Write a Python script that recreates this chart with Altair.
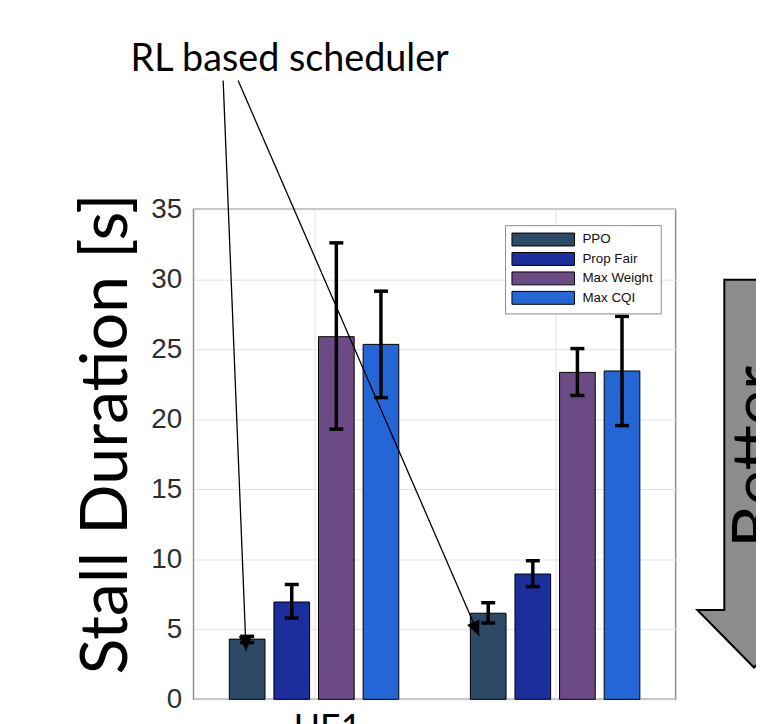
import math
import altair as alt
import pandas as pd

# ---------------- data ----------------
schedulers = ["PPO", "Prop Fair", "Max Weight", "Max CQI"]
bar_colors = ["#2c4a66", "#1b2e9c", "#6b4a86", "#2566d6"]
ue_positions = [1, 2]
ue_labels = ["UE1"]

mean_ue1 = [4.3, 6.95, 25.9, 25.35]
low_ue1 = [4.05, 5.8, 19.3, 21.55]
high_ue1 = [4.5, 8.2, 32.6, 29.15]

mean_ue2 = [6.15, 8.95, 23.35, 23.45]
low_ue2 = [5.45, 8.05, 21.7, 19.55]
high_ue2 = [6.9, 9.9, 25.05, 27.35]

y_ticks = [0, 5, 10, 15, 20, 25, 30, 35]

# annotation anchors in data units (x: UE axis, y: seconds)
note_text = ["RL based scheduler"]
note_xy = [0.899, 44.9]
arrow_x_start = [0.623, 0.685]
arrow_y_start = [44.2, 44.2]
arrow_x_end = [0.718, 1.685]
arrow_y_end = [3.47, 4.53]
better_text = ["Better"]
better_arrow_xy = [2.825, 16.12]
better_text_xy = [2.928, 17.32]
ue_label_xy = [1.056, -0.92]

# ---------------- layout constants ----------------
W, H = 486, 494
X_DOM = [0.5, 2.5]
Y_DOM = [0, 35]
PX_X = W / (X_DOM[1] - X_DOM[0])
PX_Y = H / (Y_DOM[1] - Y_DOM[0])
offsets = [-0.2775, -0.0925, 0.0925, 0.2775]
HALF_BAR = 0.074
CAP = 0.029

rows = []
for g, means, lows, highs in [
    (ue_positions[0], mean_ue1, low_ue1, high_ue1),
    (ue_positions[1], mean_ue2, low_ue2, high_ue2),
]:
    for s, off, m, lo, hi in zip(schedulers, offsets, means, lows, highs):
        c = g + off
        rows.append(dict(scheduler=s, x=c - HALF_BAR, x2=c + HALF_BAR, xc=c,
                         cl=c - CAP, cr=c + CAP, mean=m, lo=lo, hi=hi))
df = pd.DataFrame(rows)

xs = alt.Scale(domain=X_DOM, nice=False, zero=False)
ys = alt.Scale(domain=Y_DOM, nice=False, zero=True)

x_axis = alt.Axis(values=ue_positions, labels=False, ticks=False, domain=False, title=None,
                  grid=True, gridColor="#e2e2e2", gridWidth=1)
y_axis = alt.Axis(
    values=y_ticks, grid=True, gridColor="#e2e2e2", gridWidth=1, ticks=False,
    domain=False, labelFont="Liberation Sans", labelFontSize=28, labelColor="#2e2e2e",
    labelPadding=12, labelOverlap=False, labelFlush=False,
    title="Stall Duration [s]", titleFont="Lato", titleFontSize=67,
    titleFontWeight="normal", titleColor="black", titleAngle=270,
    titleX=-68, titleY=226, titleAlign="center", titleBaseline="alphabetic")


def X(field):
    return alt.X(field, scale=xs, axis=x_axis)


def Y(field):
    return alt.Y(field, scale=ys, axis=y_axis)


bars = alt.Chart(df).mark_bar(stroke="black", strokeWidth=1, opacity=1).encode(
    x=X("x:Q"), x2="x2:Q",
    y=Y("mean:Q"), y2=alt.datum(0),
    color=alt.Color("scheduler:N", sort=schedulers,
                    scale=alt.Scale(domain=schedulers, range=bar_colors),
                    legend=alt.Legend(
                        title=None, orient="none", legendX=314, legendY=16,
                        symbolType="M-4.5,-0.93H4.5V0.93H-4.5Z", symbolSize=196,
                        symbolStrokeColor="black", symbolStrokeWidth=1, symbolOpacity=1,
                        symbolOffset=24, labelOffset=32,
                        padding=7, fillColor="white", strokeColor="#8c8c8c",
                        labelFont="Liberation Sans", labelFontSize=13.5,
                        labelColor="#111111", rowPadding=0.6)),
)

err = alt.Chart(df).mark_rule(color="black", strokeWidth=3.5).encode(
    x=X("xc:Q"), y=Y("lo:Q"), y2="hi:Q",
)
cap_lo = alt.Chart(df).mark_rule(color="black", strokeWidth=3.5).encode(
    x=X("cl:Q"), x2="cr:Q", y=Y("lo:Q"),
)
cap_hi = alt.Chart(df).mark_rule(color="black", strokeWidth=3.5).encode(
    x=X("cl:Q"), x2="cr:Q", y=Y("hi:Q"),
)

# RL arrows
arr_rows = []
for xs0, ys0, xe, ye in zip(arrow_x_start, arrow_y_start, arrow_x_end, arrow_y_end):
    dxp = (xe - xs0) * PX_X
    dyp = (ys0 - ye) * PX_Y
    ang = (360 - math.degrees(math.atan2(dxp, dyp))) % 360
    arr_rows.append(dict(x=xs0, y=ys0, x2=xe, y2=ye, ang=ang))
adf = pd.DataFrame(arr_rows)

arrow_lines = alt.Chart(adf).mark_rule(color="black", strokeWidth=1.3).encode(
    x=X("x:Q"), x2="x2:Q", y=Y("y:Q"), y2="y2:Q",
)
arrow_heads = alt.Chart(adf).mark_point(
    shape="M0,0L-0.45,-1L0.45,-1Z", size=900, filled=True, color="black", opacity=1
).encode(
    x=X("x2:Q"), y=Y("y2:Q"),
    angle=alt.Angle("ang:Q", scale=None),
)

note = alt.Chart(pd.DataFrame({"t": note_text, "x": [note_xy[0]], "y": [note_xy[1]]})).mark_text(
    font="Lato", fontSize=38, color="black", align="center", baseline="alphabetic"
).encode(x=X("x:Q"), y=Y("y:Q"), text="t:N")

better_arrow = alt.Chart(pd.DataFrame({"x": [better_arrow_xy[0]], "y": [better_arrow_xy[1]]})).mark_point(
    shape="M-0.153,-1L0.153,-1L0.153,0.703L0.292,0.703L0,1L-0.292,0.703L-0.153,0.703Z",
    size=152881, filled=True, fill="#8c8c8c", stroke="black", strokeWidth=2, opacity=1,
).encode(x=X("x:Q"), y=Y("y:Q"))

better = alt.Chart(pd.DataFrame({"t": better_text, "x": [better_text_xy[0]], "y": [better_text_xy[1]]})).mark_text(
    font="Lato", fontSize=67, color="black", angle=270, align="center", baseline="alphabetic"
).encode(x=X("x:Q"), y=Y("y:Q"), text="t:N")

ue_text = alt.Chart(pd.DataFrame({"t": ue_labels, "x": [ue_label_xy[0]], "y": [ue_label_xy[1]]})).mark_text(
    font="Lato", fontSize=36, color="black", align="center", baseline="top"
).encode(x=X("x:Q"), y=Y("y:Q"), text="t:N")

chart = alt.layer(
    bars, err, cap_lo, cap_hi, arrow_lines, arrow_heads, note, better_arrow, better, ue_text
).properties(
    width=W, height=H,
    autosize=alt.AutoSizeParams(type="none"),
    padding={"left": 187, "top": 200, "right": 81, "bottom": 22},
    background="white",
).configure_view(stroke="#8f8f8f", strokeWidth=1.5)

chart.save("out.html", embed_options={"renderer": "svg", "actions": False})
